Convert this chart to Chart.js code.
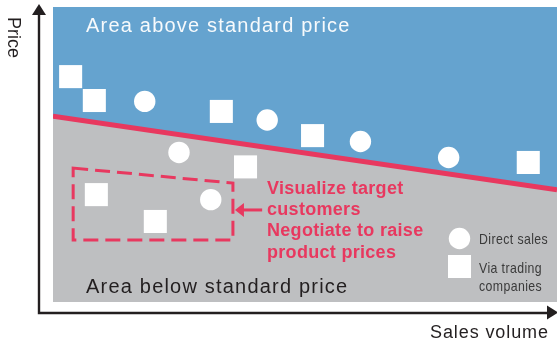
<!DOCTYPE html>
<html>
<head>
<meta charset="utf-8">
<script src="https://cdn.jsdelivr.net/npm/chart.js@4.4.1/dist/chart.umd.min.js"></script>
<style>
  html, body { margin: 0; padding: 0; background: #fff; }
  #chart { display: block; }
</style>
</head>
<body>
<canvas id="chart" width="557" height="342"></canvas>
<script>
// values (x = sales volume, y = price, both 0..100)
const directSalesX = [18.2, 42.5, 25.0, 61.0, 78.5, 31.3];
const directSalesY = [68.0, 61.7, 50.7, 54.4, 49.0, 34.7];
const tradingX = [3.5, 8.2, 33.4, 38.2, 51.5, 94.3, 8.6, 20.3];
const tradingY = [76.4, 68.3, 64.6, 45.8, 56.4, 47.3, 36.4, 27.3];
const standardPriceX = [0, 100];
const standardPriceY = [63, 38];
const targetBoxX = [4.0, 35.7, 35.7, 4.0];
const targetBoxY = [45.4, 40.3, 21.0, 21.0];

const BLUE = "#65a3cf";
const GRAY = "#bebfc1";
const RED = "#e8385f";
const DARK = "#231f20";

const toPoints = (xs, ys) => xs.map((x, i) => ({ x, y: ys[i] }));

// condensed text: no narrow font installed, so squeeze Liberation Sans
function narrowText(ctx, text, x, y, squeeze) {
    ctx.save();
    ctx.translate(x, y);
    ctx.scale(squeeze, 1);
    ctx.fillText(text, 0, 0);
    ctx.restore();
}

// gray background, annotations, axes and labels
const decorPlugin = {
    id: "decor",
    beforeDatasetsDraw(chart) {
        const { ctx, chartArea: a } = chart;
        ctx.save();
        ctx.fillStyle = GRAY;
        ctx.fillRect(a.left, a.top, a.right - a.left, a.bottom - a.top);
        ctx.restore();
    },
    afterDatasetsDraw(chart) {
        const { ctx, scales } = chart;
        const px = v => scales.x.getPixelForValue(v);
        const py = v => scales.y.getPixelForValue(v);
        ctx.save();

        // dashed target box
        ctx.strokeStyle = RED;
        ctx.lineWidth = 3;
        ctx.setLineDash([15, 7]);
        ctx.beginPath();
        targetBoxX.forEach((x, i) => {
            if (i === 0) ctx.moveTo(px(x), py(targetBoxY[i]));
            else ctx.lineTo(px(x), py(targetBoxY[i]));
        });
        ctx.closePath();
        ctx.stroke();
        ctx.setLineDash([]);

        // arrow pointing at the box
        const ay = py(31.2), tip = px(36.1);
        ctx.beginPath();
        ctx.moveTo(tip + 7, ay);
        ctx.lineTo(px(41.5), ay);
        ctx.stroke();
        ctx.fillStyle = RED;
        ctx.beginPath();
        ctx.moveTo(tip, ay);
        ctx.lineTo(tip + 9, ay - 7);
        ctx.lineTo(tip + 9, ay + 7);
        ctx.closePath();
        ctx.fill();

        // red annotation
        ctx.font = "bold 18px 'Liberation Sans', Arial, sans-serif";
        ctx.letterSpacing = "0.3px";
        ctx.textBaseline = "alphabetic";
        ["Visualize target", "customers", "Negotiate to raise", "product prices"]
            .forEach((t, i) => ctx.fillText(t, 267, 194 + i * 21.2));

        // area labels
        ctx.font = "20px 'Liberation Sans', Arial, sans-serif";
        ctx.letterSpacing = "1.2px";
        ctx.fillStyle = "#f7fafc";
        ctx.fillText("Area above standard price", 86, 32);
        ctx.fillStyle = DARK;
        ctx.fillText("Area below standard price", 86, 293);

        // legend
        ctx.fillStyle = "#fff";
        ctx.beginPath();
        ctx.arc(459.5, 238.5, 10.7, 0, Math.PI * 2);
        ctx.fill();
        ctx.fillRect(448, 255, 23, 23);
        ctx.fillStyle = "#3a3a3a";
        ctx.font = "15px 'Liberation Sans', Arial, sans-serif";
        ctx.letterSpacing = "0.5px";
        narrowText(ctx, "Direct sales", 479, 244, 0.82);
        narrowText(ctx, "Via trading", 479, 273, 0.82);
        narrowText(ctx, "companies", 479, 291, 0.82);

        // axes with arrows
        ctx.letterSpacing = "0px";
        ctx.strokeStyle = DARK;
        ctx.fillStyle = DARK;
        ctx.lineWidth = 2.4;
        ctx.beginPath();
        ctx.moveTo(39, 14);
        ctx.lineTo(39, 313);
        ctx.lineTo(549, 313);
        ctx.stroke();
        ctx.beginPath();
        ctx.moveTo(39, 4);
        ctx.lineTo(32, 15);
        ctx.lineTo(46, 15);
        ctx.closePath();
        ctx.fill();
        ctx.beginPath();
        ctx.moveTo(558, 312.5);
        ctx.lineTo(547, 305.5);
        ctx.lineTo(547, 319.5);
        ctx.closePath();
        ctx.fill();

        // axis titles
        ctx.font = "18px 'Liberation Sans', Arial, sans-serif";
        ctx.letterSpacing = "0.9px";
        ctx.fillText("Sales volume", 430, 338);
        ctx.letterSpacing = "0px";
        ctx.translate(8, 17);
        ctx.rotate(Math.PI / 2);
        ctx.fillText("Price", 0, 0);

        ctx.restore();
    }
};

new Chart(document.getElementById("chart"), {
    data: {
        datasets: [
            {
                type: "scatter",
                label: "Direct sales",
                data: toPoints(directSalesX, directSalesY),
                pointStyle: "circle",
                pointRadius: 10.7,
                backgroundColor: "#fff",
                borderWidth: 0,
                order: 1
            },
            {
                type: "scatter",
                label: "Via trading companies",
                data: toPoints(tradingX, tradingY),
                pointStyle: "rect",
                pointRadius: 16.3,
                backgroundColor: "#fff",
                borderWidth: 0,
                order: 1
            },
            {
                type: "line",
                label: "Standard price",
                data: toPoints(standardPriceX, standardPriceY),
                borderColor: RED,
                borderWidth: 5,
                pointRadius: 0,
                fill: "end",
                backgroundColor: BLUE,
                order: 3
            }
        ]
    },
    options: {
        responsive: false,
        animation: false,
        devicePixelRatio: 1,
        events: [],
        layout: { autoPadding: false, padding: { left: 53, top: 7, right: 0, bottom: 40 } },
        scales: {
            x: { type: "linear", min: 0, max: 100, display: false },
            y: { type: "linear", min: 0, max: 100, display: false }
        },
        plugins: {
            legend: { display: false },
            tooltip: { enabled: false }
        }
    },
    plugins: [decorPlugin]
});
</script>
</body>
</html>
